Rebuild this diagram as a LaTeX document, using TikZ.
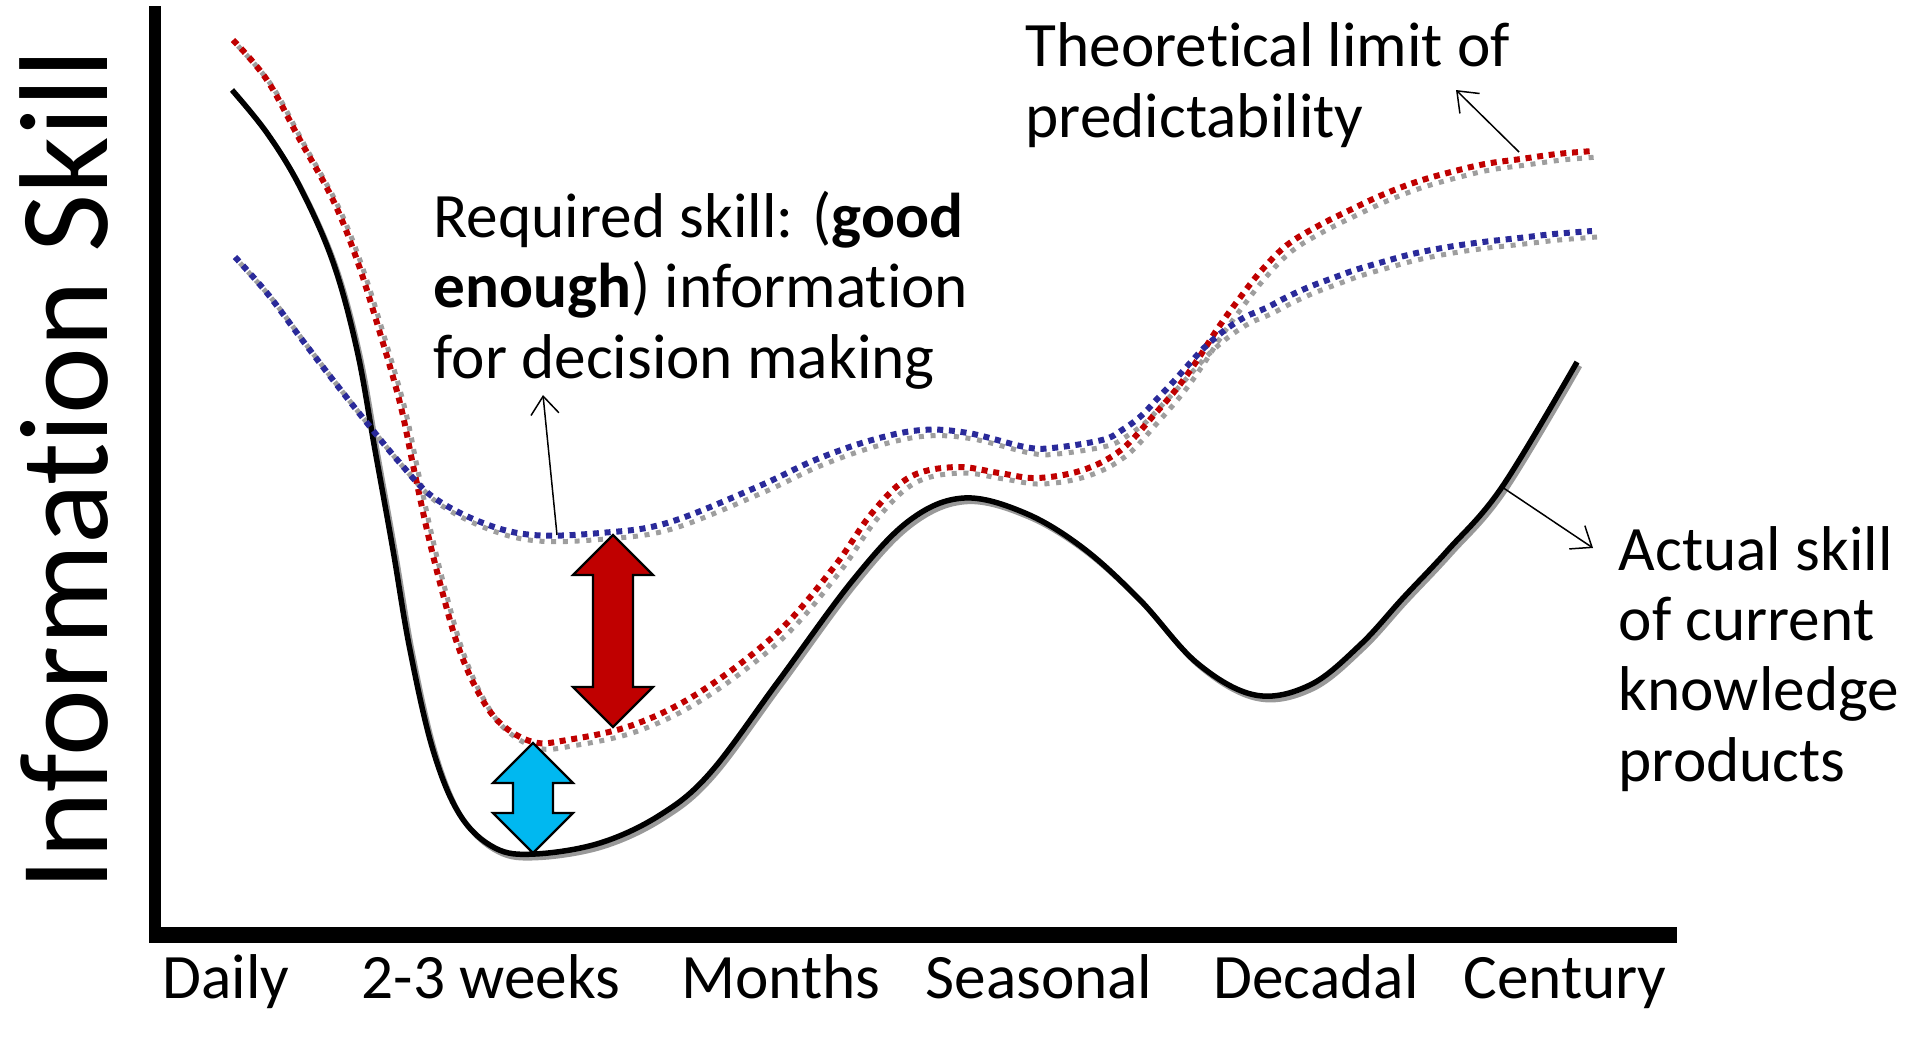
\documentclass[tikz,border=0pt]{standalone}
\usepackage{fontspec}
\setmainfont{Carlito}[Ligatures=NoCommon]
\usepackage{tikz}
\usetikzlibrary{arrows.meta}
\tikzstyle{lab} = [inner sep=0pt, align=left, font=\fontsize{18}{20}\selectfont]

\definecolor{limitred}{HTML}{C00000}
\definecolor{needblue}{HTML}{2A2A9A}
\definecolor{gapblue}{HTML}{00B8F0}

\newcommand{\actualcurve}{plot[smooth, tension=0.6] coordinates {(232,90) (267,133) (300,187) (333,262) (357,350) (375,450) (393,550) (410,650) (433,750) (460,815) (495,848) (535,854) (600,843) (660,815) (710,773) (777,683) (853,580) (910,520) (964,498) (1025,513) (1083,548) (1140,600) (1197,663) (1255,695) (1310,685) (1360,645) (1403,598) (1448,550) (1502,487) (1577,362)}}
\newcommand{\limitcurve}{plot[smooth, tension=0.6] coordinates {(233,40) (267,80) (300,140) (333,200) (357,260) (380,333) (400,403) (413,465) (427,530) (440,583) (457,643) (477,690) (500,723) (533,742) (567,740) (633,725) (700,692) (777,633) (834,567) (872,513) (910,477) (956,467) (999,473) (1037,478) (1083,470) (1121,450) (1154,415) (1178,387) (1198,359) (1218,328) (1239,299) (1261,271) (1287,245) (1318,226) (1350,210) (1382,195) (1416,182) (1451,172) (1485,164) (1521,159) (1557,154) (1593,151)}}
\newcommand{\neededcurve}{plot[smooth, tension=0.6] coordinates {(235,257) (267,293) (300,337) (333,380) (367,423) (400,463) (433,497) (483,523) (533,535) (600,533) (667,523) (757,487) (815,460) (872,440) (922,430) (968,433) (1025,447) (1052,448) (1102,440) (1122,430) (1141,416) (1158,398) (1174,381) (1190,363) (1206,346) (1225,330) (1245,317) (1266,308) (1287,297) (1309,287) (1333,278) (1355,270) (1379,263) (1412,254) (1448,247) (1483,242) (1519,238) (1554,234) (1592,231)}}
% #1 x, #2 top tip, #3 bottom tip, #4 fill
\newcommand{\gaparrow}[4]{%
    \filldraw[fill=#4, draw=black, line width=0.22mm, line join=miter]
        (#1,#2) -- (#1+40,#2+40) -- (#1+20,#2+40) -- (#1+20,#3-40) -- (#1+40,#3-40)
        -- (#1,#3) -- (#1-40,#3-40) -- (#1-20,#3-40) -- (#1-20,#2+40) -- (#1-40,#2+40) -- cycle;
}

\begin{document}
\begin{tikzpicture}[
    x=0.1mm, y=-0.1mm,
    dots/.style={line width=0.6mm, dash pattern=on 0.6mm off 0.57mm},
    dotshadow/.style={line width=0.5mm, dash pattern=on 0.5mm off 0.67mm, draw=black!38},
    skillline/.style={line width=0.55mm, line join=round},
    skillshadow/.style={line width=0.45mm, draw=black!40},
    pointer/.style={line width=0.15mm, -{Straight Barb[length=1.8mm, width=2.8mm]}},
    ticklab/.style={lab, anchor=base}
]
    \useasboundingbox (0,0) rectangle (1913,1044);

    % axes
    \fill (149,6) rectangle (161,943);
    \fill (149,927) rectangle (1677,943);

    % shadows
    \draw[skillshadow, shift={(3,4)}] \actualcurve;
    \draw[dotshadow, shift={(5,6)}] \limitcurve;
    \draw[dotshadow, shift={(5,6)}] \neededcurve;

    % curves
    \draw[skillline] \actualcurve;
    \draw[dots, draw=limitred] \limitcurve;
    \draw[dots, draw=needblue] \neededcurve;

    % gaps
    \gaparrow{613}{535}{727}{limitred}
    \gaparrow{533}{743}{853}{gapblue}

    % labels (base = last line)
    \node[lab, anchor=base west, rotate=90, font=\fontsize{36}{40}\selectfont] (ylab) at (107,891) {Information Skill};
    \node[lab, anchor=base west] (limit) at (1025,137) {Theoretical limit of\\predictability};
    \node[lab, anchor=base west] (required) at (433,378) {Required skill: (\textbf{good}\\\textbf{enough}) information\\for decision making};
    \node[lab, anchor=base west] (actual) at (1618,781) {Actual skill\\of current\\knowledge\\products};

    \foreach \x/\name in {226/Daily, 491/2-3 weeks, 781/Months, 1039/Seasonal, 1316/Decadal, 1565/Century}
        \node[ticklab] (tick\x) at (\x,998) {\name};

    % pointers
    \coordinate (reqfoot) at (557,535);
    \coordinate (reqtip) at (543,395);
    \coordinate (limfoot) at (1519,152);
    \coordinate (limtip) at (1456,90);
    \coordinate (actfoot) at (1502,487);
    \coordinate (acttip) at (1593,548);
    \draw[pointer] (reqfoot) -- (reqtip);
    \draw[pointer] (limfoot) -- (limtip);
    \draw[pointer] (actfoot) -- (acttip);
\end{tikzpicture}
\end{document}
